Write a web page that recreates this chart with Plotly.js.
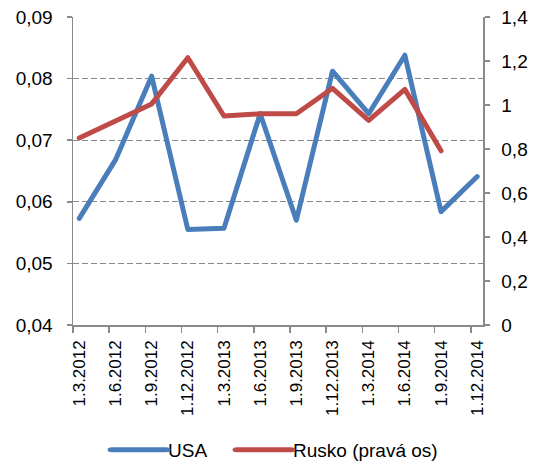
<!DOCTYPE html>
<html>
<head>
<meta charset="utf-8">
<script src="https://cdn.plot.ly/plotly-3.0.1.min.js"></script>
<style>
html,body{margin:0;padding:0;background:#fff;}
#chart{width:544px;height:461px;}
path.js-line{stroke-linejoin:round;stroke-linecap:round;}
g.scrollbox{clip-path:none !important;}
g.legendlines path.js-line{transform: translate(-25px,0px) scaleX(1.8); transform-origin: 0 0;}
</style>
</head>
<body>
<div id="chart"></div>
<script>
var categories = ["1.3.2012","1.6.2012","1.9.2012","1.12.2012","1.3.2013","1.6.2013","1.9.2013","1.12.2013","1.3.2014","1.6.2014","1.9.2014","1.12.2014"];
var usa = [0.0573,0.0668,0.0804,0.0555,0.0557,0.0743,0.0570,0.0812,0.0743,0.0838,0.0584,0.0641];
var rusko = [0.85,0.93,1.005,1.215,0.95,0.96,0.96,1.076,0.93,1.071,0.792];

var xIdx = categories.map(function(c,i){return i;});
var tickOffset = 0.174;
var minorVals = categories.map(function(c,i){return i - tickOffset;});

var axisColor = '#8a8a8a';
var fontFam = 'Liberation Sans, Arial, sans-serif';

var traces = [
  {x: xIdx.slice(0, usa.length), y: usa, name: 'USA', type: 'scatter', mode: 'lines',
   line: {color: '#4a7ebb', width: 5}, yaxis: 'y', legend: 'legend'},
  {x: xIdx.slice(0, rusko.length), y: rusko, name: 'Rusko (pravá os)', type: 'scatter', mode: 'lines',
   line: {color: '#be4b48', width: 5}, yaxis: 'y2', legend: 'legend2'}
];

var legendFont = {family: fontFam, size: 19, color: '#000'};
var layout = {
  width: 544, height: 461,
  margin: {l: 72.7, r: 61, t: 16.7, b: 136, pad: 0, autoexpand: false},
  paper_bgcolor: '#fff', plot_bgcolor: '#fff',
  separators: ', ',
  font: {family: fontFam, size: 19, color: '#000'},
  showlegend: true,
  legend: {orientation: 'h', xref: 'container', yref: 'container', x: 128/544, xanchor: 'left',
           y: 11/461, yanchor: 'middle', font: legendFont, bgcolor: 'rgba(0,0,0,0)'},
  legend2: {orientation: 'h', xref: 'container', yref: 'container', x: 253/544, xanchor: 'left',
           y: 11/461, yanchor: 'middle', font: legendFont, bgcolor: 'rgba(0,0,0,0)'},
  xaxis: {
    range: [-tickOffset, 11.16],
    tickmode: 'array', tickvals: xIdx, ticktext: categories,
    tickangle: -90, ticks: '', showgrid: false, zeroline: false,
    showline: true, linecolor: axisColor, linewidth: 1.5,
    tickfont: {family: fontFam, size: 17, color: '#000'},
    ticklabelstandoff: 7,
    minor: {tickmode: 'array', tickvals: minorVals, ticks: 'outside', ticklen: 6,
            tickcolor: axisColor, tickwidth: 1.5, showgrid: false}
  },
  yaxis: {
    range: [0.04, 0.09], tickmode: 'linear', tick0: 0.04, dtick: 0.01, tickformat: '.2f',
    ticks: 'outside', ticklen: 5, tickcolor: axisColor, tickwidth: 1.5,
    showline: true, linecolor: axisColor, linewidth: 1.5,
    showgrid: true, gridcolor: axisColor, gridwidth: 1.3, griddash: '6px,3px',
    zeroline: false, ticklabelstandoff: 10,
    tickfont: {family: fontFam, size: 19, color: '#000'}
  },
  yaxis2: {
    range: [0, 1.4], tickmode: 'linear', tick0: 0, dtick: 0.2,
    overlaying: 'y', side: 'right', anchor: 'x',
    ticks: 'outside', ticklen: 5, tickcolor: axisColor, tickwidth: 1.5,
    showline: true, linecolor: axisColor, linewidth: 1.5,
    showgrid: false, zeroline: false, ticklabelstandoff: 8,
    tickfont: {family: fontFam, size: 19, color: '#000'}
  }
};

Plotly.newPlot('chart', traces, layout, {displayModeBar: false, staticPlot: true});
</script>
</body>
</html>
